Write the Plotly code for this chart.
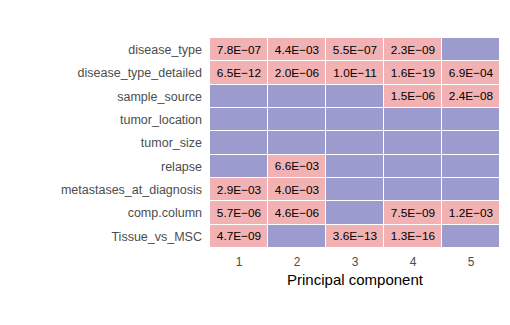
import plotly.graph_objects as go

variables = ["disease_type", "disease_type_detailed", "sample_source", "tumor_location",
             "tumor_size", "relapse", "metastases_at_diagnosis", "comp.column", "Tissue_vs_MSC"]
components = ["1", "2", "3", "4", "5"]
pvalues = [
    ["7.8E\u221207", "4.4E\u221203", "5.5E\u221207", "2.3E\u221209", ""],
    ["6.5E\u221212", "2.0E\u221206", "1.0E\u221211", "1.6E\u221219", "6.9E\u221204"],
    ["", "", "", "1.5E\u221206", "2.4E\u221208"],
    ["", "", "", "", ""],
    ["", "", "", "", ""],
    ["", "6.6E\u221203", "", "", ""],
    ["2.9E\u221203", "4.0E\u221203", "", "", ""],
    ["5.7E\u221206", "4.6E\u221206", "", "7.5E\u221209", "1.2E\u221203"],
    ["4.7E\u221209", "", "3.6E\u221213", "1.3E\u221216", ""],
]
significant = [[1 if s else 0 for s in row] for row in pvalues]

fig = go.Figure(go.Heatmap(
    z=significant, x=components, y=variables, text=pvalues,
    texttemplate="%{text}", textfont=dict(family="Liberation Sans, Arial", size=11.8, color="black"),
    colorscale=[[0, "#9B9BCD"], [0.5, "#9B9BCD"], [0.5, "#F2B2B3"], [1, "#F2B2B3"]],
    zmin=0, zmax=1, showscale=False, xgap=1, ygap=1, hoverinfo="skip",
))
fig.update_layout(
    width=510, height=325, margin=dict(l=210, r=10, t=38, b=77),
    paper_bgcolor="white", plot_bgcolor="white",
    font=dict(family="Liberation Sans, Arial", size=12, color="#4D4D4D"),
)
fig.update_xaxes(title=dict(text="Principal component", font=dict(size=15, color="black"), standoff=6),
                 showgrid=False, zeroline=False, ticks="", ticklabelstandoff=5,
                 tickfont=dict(size=12, color="#4D4D4D"))
fig.update_yaxes(autorange="reversed", showgrid=False, zeroline=False, ticks="",
                 ticklabelstandoff=7, tickfont=dict(size=12.5, color="#4D4D4D"))
fig.write_html("out.html")
